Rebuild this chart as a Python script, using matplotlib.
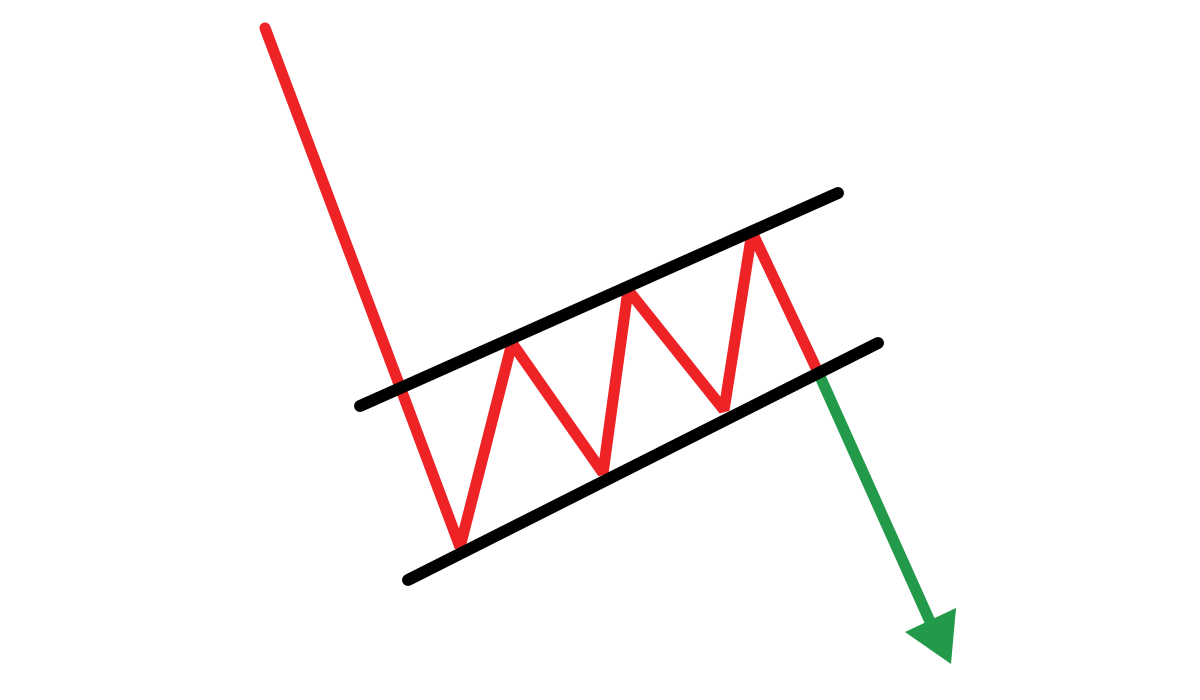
import matplotlib
matplotlib.use("Agg")
import matplotlib.pyplot as plt
from matplotlib.patches import Polygon

# Price path (red), in image pixel coordinates
price_x = [265, 402, 460, 512, 603, 628, 724, 752, 818]
price_y = [28, 392, 547, 343, 473, 290, 410, 232, 372]

# Breakout (green)
break_x = [818, 932]
break_y = [372, 626]
head_x = [905, 956, 951]
head_y = [632, 608, 664]

# Channel lines (black)
upper_x = [360, 838]
upper_y = [406, 193]
lower_x = [408, 878]
lower_y = [580, 343]

RED = "#EE2326"
GREEN = "#229A4A"

fig = plt.figure(figsize=(12, 7), dpi=100)
ax = fig.add_axes([0, 0, 1, 1])
ax.set_xlim(0, 1200)
ax.set_ylim(700, 0)
ax.axis("off")

ax.plot(price_x, price_y, color=RED, lw=8.0, solid_joinstyle="bevel",
        solid_capstyle="round", zorder=2)
ax.plot(break_x, break_y, color=GREEN, lw=8.0, solid_capstyle="butt", zorder=2)
ax.add_patch(Polygon(list(zip(head_x, head_y)), closed=True, color=GREEN, lw=0, zorder=2))
ax.plot(upper_x, upper_y, color="black", lw=8.6, solid_capstyle="round", zorder=3)
ax.plot(lower_x, lower_y, color="black", lw=8.6, solid_capstyle="round", zorder=3)

fig.savefig("out.png", dpi=100, facecolor="white")
